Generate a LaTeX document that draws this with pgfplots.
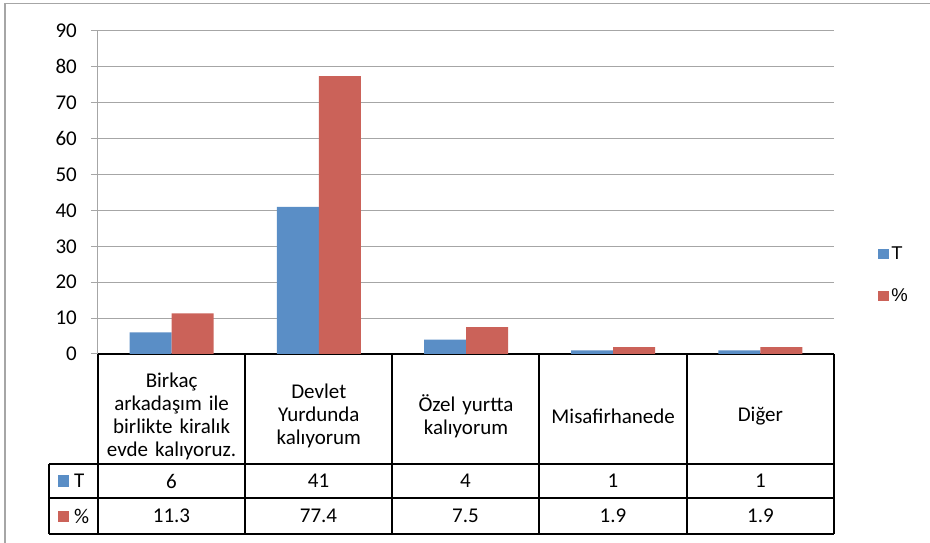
\documentclass[border=0pt]{standalone}
\usepackage{pgfplots}
\pgfplotsset{compat=1.18}
\usepackage{fontspec}
\setmainfont{Carlito}
\newfontfamily\arialfont{Liberation Sans}
\definecolor{cblue}{HTML}{5A8EC6}
\definecolor{cred}{HTML}{CB6259}
\definecolor{gridgray}{HTML}{A6A6A6}
\begin{document}
\begin{tikzpicture}[x=1pt,y=1pt]
\useasboundingbox (0,0) rectangle (930,543);
% outer frame (top and left edges visible)
\draw[gridgray, line width=1.3pt] (5,0) -- (5,539.5) -- (930,539.5);
\begin{axis}[
  at={(98pt,189pt)}, anchor=south west,
  scale only axis, width=736pt, height=323pt,
  xmin=-0.5, xmax=4.5, ymin=0, ymax=90,
  ybar=0pt, bar width=42pt,
  axis lines=left,
  axis line style={-},
  y axis line style={gridgray, line width=1pt},
  x axis line style={black, line width=1.2pt},
  ytick={0,10,...,90},
  ymajorgrids, grid style={gridgray, line width=1pt},
  tick align=outside,
  major tick length=7pt,
  ytick style={gridgray, line width=1pt},
  xtick={0,1,2,3,4},
  xtick style={draw=none},
  xticklabels={{Birkaç\\arkadaşım ile\\birlikte kiralık\\evde kalıyoruz.},{Devlet\\Yurdunda\\kalıyorum},{Özel yurtta\\kalıyorum},{Misafirhanede},{Diğer}},
  xticklabel style={anchor=center, yshift=-55pt, text width=145pt, align=center, inner sep=0pt, font=\fontsize{21}{23}\selectfont},
  yticklabel style={anchor=east, inner sep=0pt, xshift=-14pt, font=\fontsize{21}{23}\selectfont},
  /pgf/number format/assume math mode=true,
  clip=false,
  legend style={draw=none, fill=none, at={(1.06,0.245)}, anchor=west, row sep=24pt, font=\arialfont\fontsize{18.5}{20}\selectfont, inner sep=0pt},
  legend cell align=left,
  legend image code/.code={\fill[#1] (0pt,-5pt) rectangle (11pt,5pt);},
]
\addplot[fill=cblue, draw=none] coordinates {(0,6) (1,41) (2,4) (3,1) (4,1)};
\addlegendentry{T}
\addplot[fill=cred, draw=none] coordinates {(0,11.3) (1,77.4) (2,7.5) (3,1.9) (4,1.9)};
\addlegendentry{\%}
\end{axis}
% data table grid
\begin{scope}[line width=1.2pt, black]
\draw (49,79) -- (834,79);
\draw (49,45) -- (834,45);
\draw (49,9) -- (834,9);
\draw (49,79) -- (49,9);
\foreach \x in {98,245,392,539,687,834} { \draw (\x,189) -- (\x,9); }
\end{scope}
\fill[cblue] (58,56) rectangle (69,68);
\fill[cred] (58,21) rectangle (69,32);
\begin{scope}[font=\fontsize{21}{23}\selectfont]
\node[anchor=west, inner sep=0pt] at (74,62) {T};
\node[anchor=west, inner sep=0pt] at (74,27) {\%};
\foreach \x/\t/\p in {171.5/6/11.3, 318.5/41/77.4, 465.5/4/7.5, 613/1/1.9, 760.5/1/1.9} {
  \node at (\x,62) {\t};
  \node at (\x,27) {\p};
}
\end{scope}
\end{tikzpicture}
\end{document}
